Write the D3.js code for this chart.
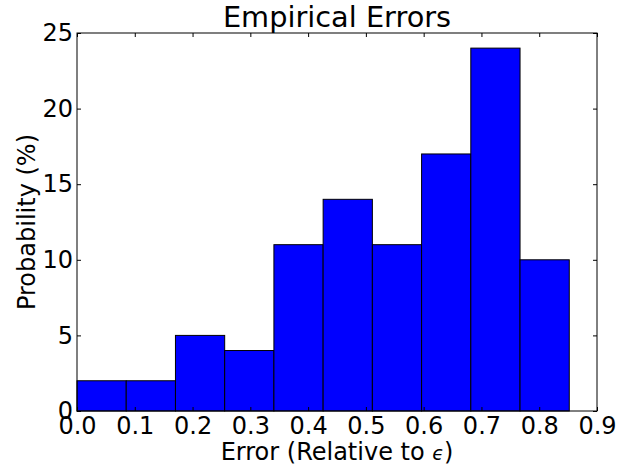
<!DOCTYPE html>
<html>
<head>
<meta charset="utf-8">
<script src="https://cdn.jsdelivr.net/npm/d3@7"></script>
<style>
  body { margin: 0; background: #fff; }
  text { font-family: "DejaVu Sans", sans-serif; fill: #000; }
</style>
</head>
<body>
<div id="chart"></div>
<script>
// histogram of empirical errors

var binEdges = [0, 0.0852, 0.1704, 0.2556, 0.3408, 0.426, 0.5112, 0.5964, 0.6816, 0.7668, 0.852]
var counts = [2, 2, 5, 4, 11, 14, 11, 17, 24, 10]
var xTicks = [0, 0.1, 0.2, 0.3, 0.4, 0.5, 0.6, 0.7, 0.8, 0.9]
var yTicks = [0, 5, 10, 15, 20, 25]

var width = 638
var height = 468
var margin = {top: 33, right: 41, bottom: 57, left: 77}

var svg = d3.select('#chart').append('svg')
            .attr('width', width)
            .attr('height', height)

var x = d3.scaleLinear()
          .domain([0, 0.9])
          .range([margin.left, width - margin.right])

var y = d3.scaleLinear()
          .domain([0, 25])
          .range([height - margin.bottom, margin.top])

var bins = counts.map(function(c, i) {
  return {x0: binEdges[i], x1: binEdges[i + 1], value: c}
})

svg.selectAll('.bar')
   .data(bins)
   .enter().append('rect')
   .attr('class', 'bar')
   .attr('x', function(d) { return x(d.x0) })
   .attr('y', function(d) { return y(d.value) })
   .attr('width', function(d) { return x(d.x1) - x(d.x0) })
   .attr('height', function(d) { return y(0) - y(d.value) })
   .style('fill', '#0000ff')
   .style('stroke', '#000')
   .style('stroke-width', 1)

// axes, ticks pointing inward on all four sides
var tickLen = 4

svg.append('g')
   .attr('transform', 'translate(0,' + y(0) + ')')
   .call(d3.axisBottom(x).tickValues(xTicks).tickSize(-tickLen).tickPadding(6)
           .tickFormat(d3.format('.1f')))
   .call(function(g) { g.select('.domain').remove() })
   .selectAll('text').style('font-size', '24px').attr('dy', '0.71em')

svg.append('g')
   .attr('transform', 'translate(0,' + margin.top + ')')
   .call(d3.axisTop(x).tickValues(xTicks).tickSize(-tickLen).tickFormat(''))
   .call(function(g) { g.select('.domain').remove() })

svg.append('g')
   .attr('transform', 'translate(' + margin.left + ',0)')
   .call(d3.axisLeft(y).tickValues(yTicks).tickSize(-tickLen).tickPadding(4))
   .call(function(g) { g.select('.domain').remove() })
   .selectAll('text').style('font-size', '24px')

svg.append('g')
   .attr('transform', 'translate(' + (width - margin.right) + ',0)')
   .call(d3.axisRight(y).tickValues(yTicks).tickSize(-tickLen).tickFormat(''))
   .call(function(g) { g.select('.domain').remove() })

svg.selectAll('.tick line').style('stroke', '#000')

svg.append('rect')
   .attr('x', margin.left)
   .attr('y', margin.top)
   .attr('width', width - margin.left - margin.right)
   .attr('height', height - margin.top - margin.bottom)
   .style('fill', 'none')
   .style('stroke', '#000')
   .style('stroke-width', 1)

svg.append('text')
   .attr('x', (margin.left + width - margin.right) / 2)
   .attr('y', 27)
   .attr('text-anchor', 'middle')
   .style('font-size', '28.8px')
   .text('Empirical Errors')

var xlab = svg.append('text')
   .attr('x', (margin.left + width - margin.right) / 2)
   .attr('y', 460)
   .attr('text-anchor', 'middle')
   .style('font-size', '24px')
xlab.append('tspan').text('Error (Relative to ')
xlab.append('tspan').style('font-style', 'italic').style('font-size', '19px').text('\u03f5')
xlab.append('tspan').text(')')

svg.append('text')
   .attr('transform', 'translate(35,' + (margin.top + height - margin.bottom) / 2 + ') rotate(-90)')
   .attr('text-anchor', 'middle')
   .style('font-size', '24px')
   .text('Probability (%)')
</script>
</body>
</html>
